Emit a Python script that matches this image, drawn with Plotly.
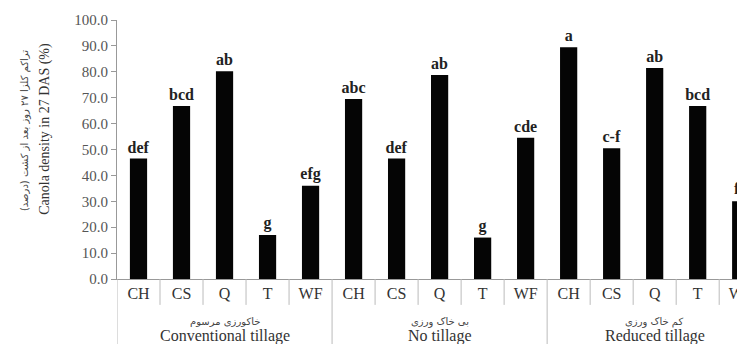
import plotly.graph_objects as go

treatments = ["CH", "CS", "Q", "T", "WF"]
groups_en = ["Conventional tillage", "No tillage", "Reduced tillage"]
groups_fa = ["خاکورزی مرسوم", "بی خاک ورزی", "کم خاک ورزی"]

density = [46.5, 66.8, 80.2, 17.0, 36.0,
           69.5, 46.5, 78.8, 16.0, 54.5,
           89.5, 50.5, 81.5, 66.8, 30.0]
letters = ["def", "bcd", "ab", "g", "efg",
           "abc", "def", "ab", "g", "cde",
           "a", "c-f", "ab", "bcd", "fg"]

ytick_vals = [0, 10, 20, 30, 40, 50, 60, 70, 80, 90, 100]

n = len(density)
xs = list(range(n))
xlabels = treatments * len(groups_en)

SERIF = "Liberation Serif, Times New Roman, DejaVu Serif, serif"
ARAB = "DejaVu Sans, Noto Sans, sans-serif"

fig = go.Figure()
fig.add_trace(go.Bar(
    x=xs, y=density, width=0.4,
    marker=dict(color="#050505", line=dict(width=0)),
    text=letters, textposition="outside", constraintext="none",
    textfont=dict(family=SERIF, size=16, color="#222", weight="bold"),
    cliponaxis=False,
))

shapes = []
for k in range(n + 1):
    edge = k - 0.5
    is_group = (k % len(treatments) == 0)
    shapes.append(dict(type="line", xref="x", yref="paper",
                       x0=edge, x1=edge, y0=0,
                       y1=-0.3 if is_group else -0.1,
                       line=dict(color="#bbbbbb", width=1)))

annotations = []
for g in range(len(groups_en)):
    cx = g * len(treatments) + (len(treatments) - 1) / 2
    annotations.append(dict(x=cx, xref="x", y=-0.166, yref="paper",
                            text=groups_fa[g], showarrow=False,
                            font=dict(family=ARAB, size=10, color="#444"),
                            yanchor="middle"))
    annotations.append(dict(x=cx, xref="x", y=-0.222, yref="paper",
                            text=groups_en[g], showarrow=False,
                            font=dict(family=SERIF, size=16, color="#333"),
                            yanchor="middle"))

annotations.append(dict(x=-0.1465, xref="paper", y=0.575, yref="paper",
                        text="تراکم کلزا ۲۷ روز بعد از کشت (درصد)", textangle=-90,
                        showarrow=False, xanchor="center", yanchor="middle",
                        font=dict(family=ARAB, size=10, color="#444")))
annotations.append(dict(x=-0.1146, xref="paper", y=0.58, yref="paper",
                        text="Canola density in 27 DAS (%)", textangle=-90,
                        showarrow=False, xanchor="center", yanchor="middle",
                        font=dict(family=SERIF, size=14, color="#333")))

fig.update_layout(
    width=737, height=336,
    margin=dict(l=109, r=0, t=12, b=65, autoexpand=False),
    paper_bgcolor="white", plot_bgcolor="white",
    showlegend=False,
    shapes=shapes, annotations=annotations,
    xaxis=dict(range=[-0.5, 14.1], tickmode="array", tickvals=xs, ticktext=xlabels,
               showline=True, linecolor="#999", linewidth=1, ticks="",
               showgrid=False, zeroline=False, automargin=False,
               ticklabeloverflow="allow",
               tickfont=dict(family=SERIF, size=16, color="#333")),
    yaxis=dict(range=[0, 100], tickmode="array", tickvals=ytick_vals,
               tickformat=".1f", showline=True, linecolor="#999", linewidth=1,
               ticks="outside", ticklen=5, tickcolor="#999",
               showgrid=False, zeroline=False, automargin=False,
               tickfont=dict(family=SERIF, size=15, color="#555")),
)

fig.write_html("out.html")
